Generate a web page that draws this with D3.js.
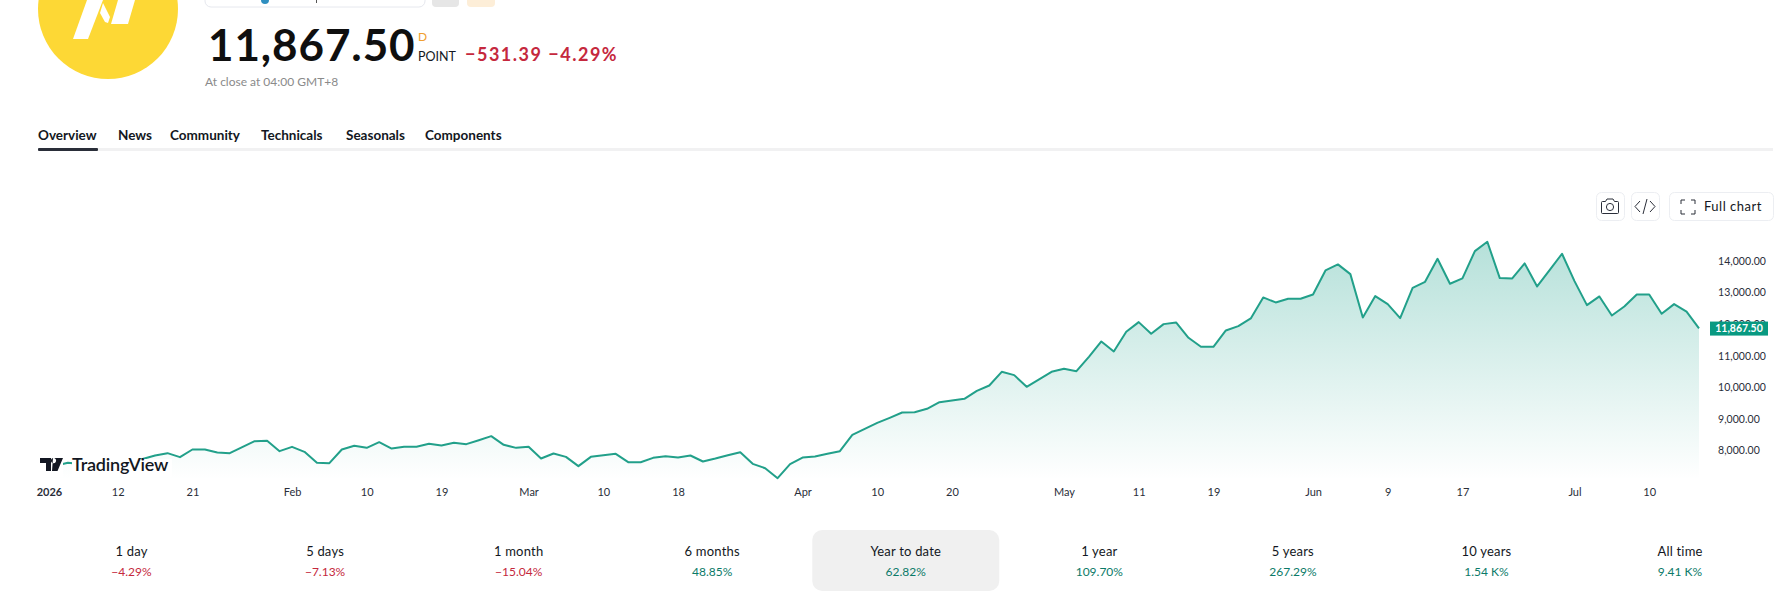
<!DOCTYPE html>
<html>
<head>
<meta charset="utf-8">
<script src="https://cdn.jsdelivr.net/npm/d3@7/dist/d3.min.js"></script>
<style>
  html, body { margin: 0; padding: 0; background: #fff; overflow: hidden; }
  svg { display: block; }
  text { font-family: Lato, "Noto Sans", sans-serif; }
</style>
</head>
<body>
<svg id="page" width="1781" height="605"></svg>
<script>
// Daily closes of the index, year to date (one value per trading session).
const closes = [
  7410, 7520, 7610, 7570, 7640, 7600, 7680, 7650, 7730, 7842,
  7916, 7789, 8032, 8032, 7937, 7916, 8106, 8296, 8306, 7979,
  8116, 7958, 7609, 7599, 8032, 8148, 8084, 8264, 8063, 8116,
  8116, 8211, 8158, 8243, 8201, 8327, 8454, 8180, 8084, 8116,
  7747, 7905, 7799, 7504, 7799, 7852, 7894, 7630, 7630, 7768,
  7820, 7778, 7842, 7652, 7747, 7852, 7947, 7578, 7440, 7124,
  7567, 7778, 7810, 7894, 7979, 8496, 8686, 8876, 9035, 9204,
  9214, 9320, 9531, 9584, 9637, 9890, 10059, 10492, 10387, 10017,
  10249, 10492, 10587, 10513, 10967, 11453, 11136, 11759, 12066, 11696,
  12002, 12055, 11569, 11284, 11284, 11802, 11939, 12182, 12847, 12689,
  12805, 12805, 12942, 13702, 13893, 13586, 12213, 12889, 12636, 12192,
  13153, 13343, 14072, 13280, 13449, 14315, 14611, 13460, 13449, 13924,
  13196, 13713, 14230, 13364, 12604, 12879, 12277, 12562, 12942, 12942,
  12330, 12636, 12398.89, 11867.5
];

// Time axis: session index of each labelled tick and its caption.
const timeTickIndex = [0, 6, 12, 20, 26, 32, 39, 45, 51, 61, 67, 73, 82, 88, 94, 102, 108, 114, 123, 129];
const timeTickLabels = ["2026", "12", "21", "Feb", "10", "19", "Mar", "10", "18", "Apr", "10", "20", "May", "11", "19", "Jun", "9", "17", "Jul", "10"];

// Price axis ticks.
const priceTicks = [8000, 9000, 10000, 11000, 12000, 13000, 14000];
const lastPrice = 11867.5;

// Performance strip below the chart.
const periodLabels = ["1 day", "5 days", "1 month", "6 months", "Year to date", "1 year", "5 years", "10 years", "All time"];
const periodValues = ["−4.29%", "−7.13%", "−15.04%", "48.85%", "62.82%", "109.70%", "267.29%", "1.54 K%", "9.41 K%"];
const periodSigns = [-1, -1, -1, 1, 1, 1, 1, 1, 1];
const selectedPeriod = "Year to date";

// Navigation tabs.
const tabLabels = ["Overview", "News", "Community", "Technicals", "Seasonals", "Components"];
const tabLeftEdges = [38, 118, 170, 261, 346, 425];

const GREEN = "#089981", LINE = "#22a08a", RED = "#c5283d", INK = "#131722";

const svg = d3.select("#page");
const defs = svg.append("defs");

/* ---------- header ---------- */
const head = svg.append("g");
head.append("circle").attr("cx", 108).attr("cy", 9).attr("r", 70).attr("fill", "#fdd835");
head.selectAll("polygon").data([
  "87,0 103,0 88,39 73,39",
  "100,13 103,3 110,17 108,23 105,22",
  "118,0 135,0 128,24 111,24"
]).join("polygon").attr("points", d => d).attr("fill", "#fff");

head.append("rect").attr("x", 205).attr("y", -10).attr("width", 220).attr("height", 17).attr("rx", 6)
  .attr("fill", "#fff").attr("stroke", "#e6e8ee");
head.append("circle").attr("cx", 265).attr("cy", 0).attr("r", 4).attr("fill", "#2f8fc0");
head.append("rect").attr("x", 316).attr("y", 0).attr("width", 1).attr("height", 3).attr("fill", "#555");
head.append("rect").attr("x", 432).attr("y", -10).attr("width", 27).attr("height", 17).attr("rx", 4).attr("fill", "#e6e6e6");
head.append("rect").attr("x", 467).attr("y", -10).attr("width", 28).attr("height", 17).attr("rx", 4).attr("fill", "#fdeed8");

head.append("text").text("11,867.50").attr("x", 208).attr("y", 61)
  .attr("font-size", 44).attr("font-weight", 700).attr("letter-spacing", 0.9).attr("fill", "#0f0f0f");
head.append("text").text("D").attr("x", 418).attr("y", 41).attr("font-size", 12).attr("fill", "#f0a030");
head.append("text").text("POINT").attr("x", 418).attr("y", 61).attr("font-size", 12.5).attr("fill", INK);
head.append("text").text("−531.39 −4.29%").attr("x", 465).attr("y", 61)
  .attr("font-size", 18).attr("font-weight", 700).attr("letter-spacing", 1.5).attr("fill", RED);
head.append("text").text("At close at 04:00 GMT+8").attr("x", 205).attr("y", 86)
  .attr("font-size", 12).attr("fill", "#8a8a8a");

/* ---------- tabs ---------- */
const tabs = svg.append("g");
tabs.selectAll("text").data(tabLabels).join("text")
  .text(d => d).attr("x", (d, i) => tabLeftEdges[i]).attr("y", 140)
  .attr("font-size", 13.5).attr("font-weight", 700).attr("fill", INK);
tabs.append("rect").attr("x", 38).attr("y", 148).attr("width", 1735).attr("height", 3).attr("fill", "#f1f1f2");
tabs.append("rect").attr("x", 38).attr("y", 148).attr("width", 60).attr("height", 3).attr("rx", 1).attr("fill", "#2a2e39");

/* ---------- chart toolbar ---------- */
const tools = svg.append("g").attr("fill", "none");
[[1596, 28], [1631, 28], [1669, 104]].forEach(([x, w]) => {
  tools.append("rect").attr("x", x + 0.5).attr("y", 192.5).attr("width", w).attr("height", 28).attr("rx", 5)
    .attr("stroke", "#eceef2").attr("fill", "#fff");
});
// camera glyph
tools.append("path").attr("d", "M1602.5 201.5h3l1.5-2.5h6l1.5 2.5h3a1 1 0 0 1 1 1v10a1 1 0 0 1-1 1h-15a1 1 0 0 1-1-1v-10a1 1 0 0 1 1-1z").attr("stroke", "#2a2e39");
tools.append("circle").attr("cx", 1610).attr("cy", 207).attr("r", 3.6).attr("stroke", "#2a2e39");
// code glyph
tools.append("path").attr("d", "M1640 201l-5 5.5 5 5.5M1650 201l5 5.5-5 5.5M1647 199l-4 15").attr("stroke", "#2a2e39");
// full-screen glyph
tools.append("path").attr("d", "M1681 204v-4h4M1691 200h4v4M1695 210v4h-4M1685 214h-4v-4").attr("stroke", "#2a2e39").attr("stroke-width", 1);
svg.append("text").text("Full chart").attr("x", 1704).attr("y", 211).attr("font-size", 13)
  .attr("letter-spacing", 0.5).attr("fill", INK);

/* ---------- price chart ---------- */
const x = d3.scaleLinear().domain([0, closes.length - 1]).range([43, 1699]);
const y = d3.scaleLinear().domain([7066, 14666]).range([480, 240]);

const fade = defs.append("linearGradient").attr("id", "areaFade")
  .attr("gradientUnits", "userSpaceOnUse").attr("x1", 0).attr("x2", 0).attr("y1", 240).attr("y2", 480);
fade.append("stop").attr("offset", 0).attr("stop-color", GREEN).attr("stop-opacity", 0.3);
fade.append("stop").attr("offset", 1).attr("stop-color", GREEN).attr("stop-opacity", 0);

const area = d3.area().x((d, i) => x(i)).y0(y.range()[0]).y1(d => y(d));
const line = d3.line().x((d, i) => x(i)).y(d => y(d));

const plot = svg.append("g");
plot.append("path").datum(closes).attr("d", area).attr("fill", "url(#areaFade)");
plot.append("path").datum(closes).attr("d", line).attr("fill", "none")
  .attr("stroke", LINE).attr("stroke-width", 2).attr("stroke-linejoin", "round");

// time axis
const timeAxis = d3.axisBottom(x).tickValues(timeTickIndex)
  .tickFormat(d => timeTickLabels[timeTickIndex.indexOf(d)]).tickSize(0).tickPadding(0);
const gx = svg.append("g").attr("transform", "translate(0,488)").call(timeAxis);
gx.select(".domain").remove();
gx.selectAll("text").attr("font-family", "Lato").attr("font-size", 11)
  .attr("font-weight", d => d === 0 ? 700 : 400)
  .attr("dx", d => d === 0 ? 6 : 0)   // the year label is pushed clear of the left edge
  .attr("dy", "0.71em").attr("fill", "#2a2e39");

// price axis
const priceAxis = d3.axisRight(y).tickValues(priceTicks).tickFormat(d3.format(",.2f")).tickSize(0).tickPadding(0);
const gy = svg.append("g").attr("transform", "translate(1718,0)").call(priceAxis);
gy.select(".domain").remove();
gy.selectAll("text").attr("font-family", "Lato").attr("font-size", 10.5)
  .attr("letter-spacing", 0.05).attr("fill", "#2a2e39");

// last price tag
const tag = svg.append("g").attr("transform", `translate(0,${y(lastPrice)})`);
tag.append("rect").attr("x", 1710).attr("y", -6.8).attr("width", 58).attr("height", 14).attr("fill", GREEN);
tag.append("text").text(d3.format(",.2f")(lastPrice)).attr("x", 1739).attr("y", 4)
  .attr("text-anchor", "middle").attr("font-size", 10.5).attr("font-weight", 700).attr("fill", "#fff");

/* ---------- watermark ---------- */
const mark = svg.append("g");
mark.append("rect").attr("x", 38).attr("y", 459).attr("width", 25).attr("height", 18).attr("fill", "#fff");
mark.append("rect").attr("x", 72).attr("y", 459).attr("width", 100).attr("height", 18).attr("fill", "#fff");
mark.append("path").attr("fill", "#131722")
  .attr("d", "M40 458h11v13h-5v-8h-6zM53 458h10l-5.5 13h-5.5zM53.5 458a2.6 2.6 0 1 0 0.01 0z");
mark.append("text").text("TradingView").attr("x", 72).attr("y", 471)
  .attr("font-family", "Inter").attr("font-size", 18).attr("font-weight", 600)
  .attr("letter-spacing", -0.2).attr("fill", "#131722");

/* ---------- performance strip ---------- */
const px = d3.scalePoint().domain(periodLabels).range([131.5, 1680]);
const strip = svg.append("g");
strip.append("rect").attr("x", px(selectedPeriod) - 93.5).attr("y", 530).attr("width", 187).attr("height", 61)
  .attr("rx", 10).attr("fill", "#f0f0f0");
const cells = strip.selectAll("g.cell").data(periodLabels).join("g").attr("class", "cell")
  .attr("transform", d => `translate(${px(d)},0)`);
cells.append("text").text(d => d).attr("y", 556).attr("text-anchor", "middle")
  .attr("font-size", 13).attr("letter-spacing", 0.2).attr("fill", INK);
cells.append("text").text((d, i) => periodValues[i]).attr("y", 576).attr("text-anchor", "middle")
  .attr("font-size", 12).attr("fill", (d, i) => periodSigns[i] < 0 ? RED : "#0b7a68");
</script>
</body>
</html>
